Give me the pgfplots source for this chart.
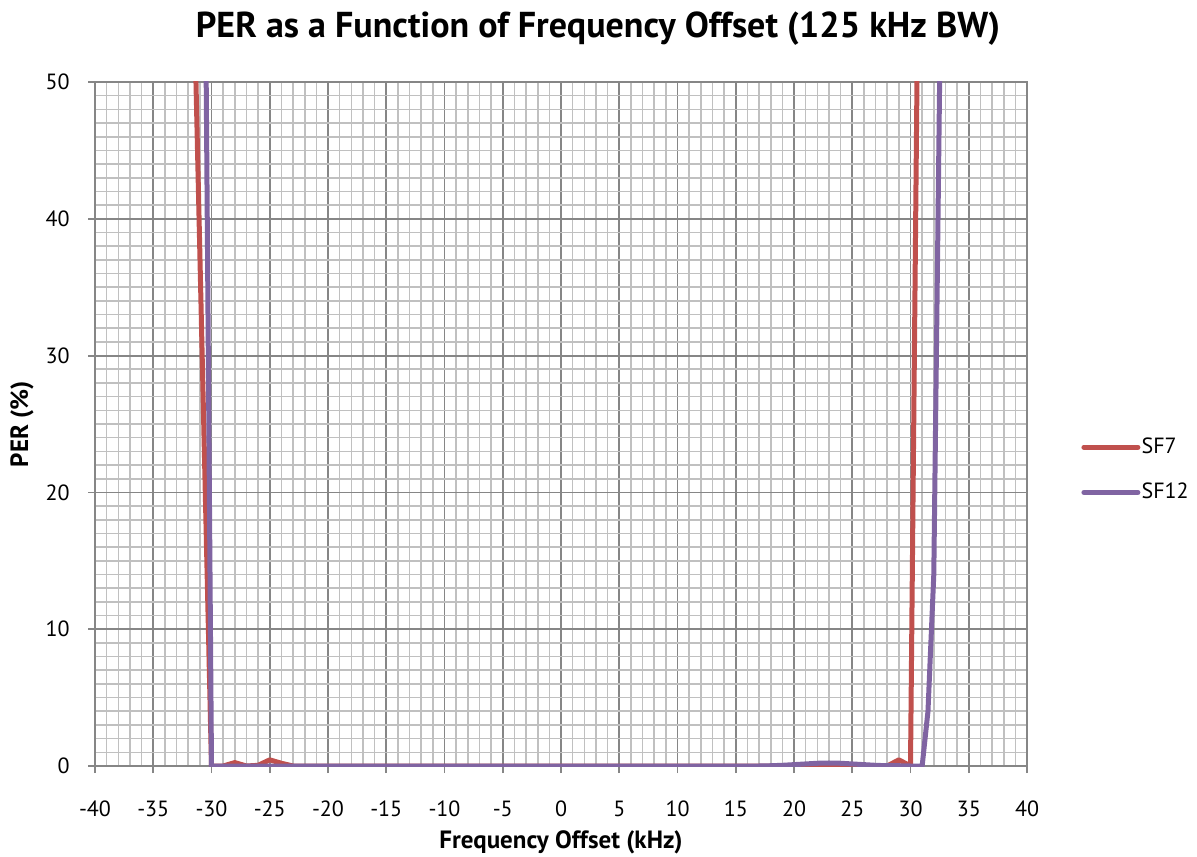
\documentclass[border=0pt]{standalone}
\usepackage{pgfplots}
\pgfplotsset{compat=1.18}
\usepackage{fontspec}
\setmainfont{PT Sans}
\definecolor{sfred}{RGB}{192,80,77}
\definecolor{sfpurple}{RGB}{128,100,162}
\definecolor{majgrid}{RGB}{134,134,134}
\definecolor{mingrid}{RGB}{192,192,192}
\begin{document}
\begin{tikzpicture}
\path[use as bounding box] (0,0) rectangle (598.5pt,428pt);
\node[anchor=base, font=\fontsize{18}{20}\selectfont\bfseries] at (299pt,409pt) {PER as a Function of Frequency Offset (125 kHz BW)};
\begin{axis}[
  at={(47.5pt,45pt)}, anchor=south west,
  scale only axis, width=466pt, height=342pt,
  xmin=-40, xmax=40, ymin=0, ymax=50,
  xtick={-40,-35,...,40},
  xticklabels={-40,-35,-30,-25,-20,-15,-10,-5,0,5,10,15,20,25,30,35,40},
  ytick={0,10,...,50},
  yticklabels={0,10,20,30,40,50},
  minor x tick num=4, minor y tick num=9,
  grid=both,
  major grid style={draw=majgrid, line width=0.9pt},
  minor grid style={draw=mingrid, line width=0.8pt},
  axis line style={draw=majgrid, line width=0.9pt},
  tick align=outside, tick pos=left,
  major tick length=3.5pt, minor tick length=0pt,
  every tick/.style={draw=majgrid, line width=0.9pt},
  tick label style={font=\fontsize{11}{13}\selectfont},
  xticklabel style={anchor=base, yshift=-21.5pt},
  yticklabel style={anchor=east, inner sep=0pt, xshift=-9pt},
  xlabel={Frequency Offset (kHz)},
  ylabel={PER (\%)},
  every axis x label/.style={at={(axis description cs:0.5,0)}, anchor=base, yshift=-41pt, font=\fontsize{12.5}{14}\selectfont\bfseries},
  every axis y label/.style={at={(axis description cs:0,0.5)}, xshift=-36.5pt, rotate=90, anchor=center, font=\fontsize{12.5}{14}\selectfont\bfseries},
  legend style={at={(1,0.433)}, anchor=west, xshift=27pt, draw=none, fill=none, inner sep=0pt,
    font=\fontsize{11}{13}\selectfont, row sep=12pt, nodes={inner sep=0.6pt}},
  legend cell align=left,
  legend image code/.code={\draw[#1, line cap=round] (0pt,0pt) -- (27pt,0pt);},
  every axis plot/.append style={line width=2.5pt, line join=round},
]
\addplot[sfred] coordinates {
(-32,75) (-31,37.5) (-30,0) (-29,0) (-28,0.25) (-27,0) (-26,0.05) (-25,0.45) (-24,0.2) (-23,0)
(-22,0) (-20,0) (-15,0) (-10,0) (-5,0) (0,0) (5,0) (10,0) (15,0) (20,0) (25,0) (28,0)
(29,0.45) (30,0) (31,90)
};
\addlegendentry{SF7}
\addplot[sfpurple] coordinates {
(-31,110) (-30,0) (-25,0) (-20,0) (-15,0) (-10,0) (-5,0) (0,0) (5,0) (10,0) (15,0) (17,0)
(18,0.02) (19,0.05) (20,0.1) (21,0.15) (22,0.2) (23,0.22) (24,0.2) (25,0.15) (26,0.1)
(27,0.05) (28,0.02) (29,0.02) (30,0) (31,0) (31.5,4) (32,14) (32.5,50) (33,100)
};
\addlegendentry{SF12}
\end{axis}
\end{tikzpicture}
\end{document}
